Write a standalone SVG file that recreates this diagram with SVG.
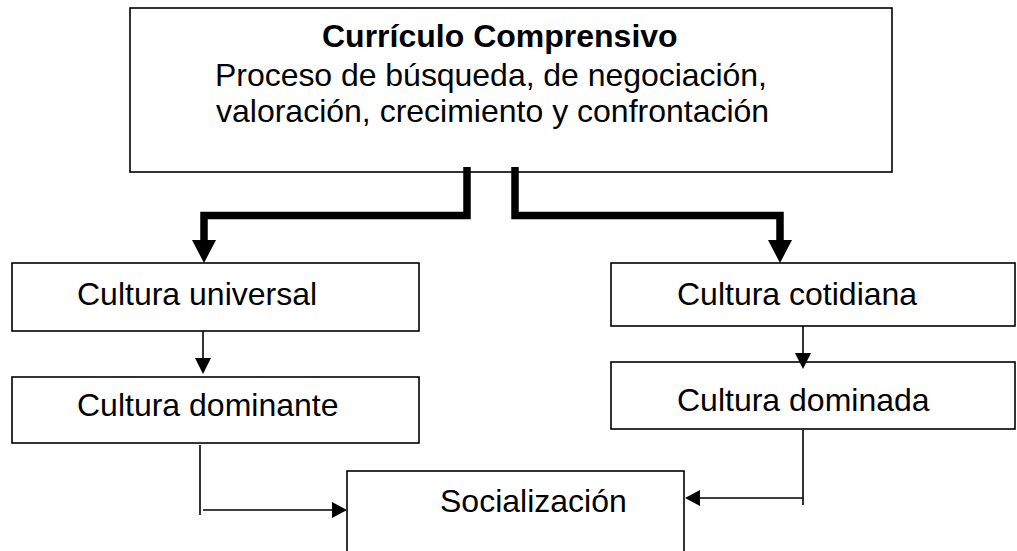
<svg xmlns="http://www.w3.org/2000/svg" width="1017" height="551" viewBox="0 0 1017 551">
<style>
.box{fill:#fff;stroke:#000;stroke-width:1.6}
.t{font-family:"Liberation Sans",Arial,sans-serif;font-size:32px;fill:#000}
.b{font-weight:bold}
.thick{fill:none;stroke:#000;stroke-width:7.5}
.thin{fill:none;stroke:#000;stroke-width:1.6}
</style>
<rect width="1017" height="551" fill="#fff"/>
<g id="curriculo">
<rect class="box" x="130" y="8" width="762" height="164"/>
<text class="t b" x="322" y="47">Currículo Comprensivo</text>
<text class="t" x="215" y="86" textLength="552" lengthAdjust="spacing">Proceso de búsqueda, de negociación,</text>
<text class="t" x="216" y="122">valoración, crecimiento y confrontación</text>
</g>
<g id="universal">
<rect class="box" x="12" y="263" width="407" height="68"/>
<text class="t" x="77" y="305">Cultura universal</text>
</g>
<g id="dominante">
<rect class="box" x="12" y="377" width="407" height="66"/>
<text class="t" x="77" y="416">Cultura dominante</text>
</g>
<g id="cotidiana">
<rect class="box" x="611" y="263" width="404" height="63"/>
<text class="t" x="677" y="305">Cultura cotidiana</text>
</g>
<g id="dominada">
<rect class="box" x="611" y="362" width="404" height="67"/>
<text class="t" x="677" y="411">Cultura dominada</text>
</g>
<g id="socializacion">
<rect class="box" x="347" y="471" width="337" height="100"/>
<text class="t" x="440" y="512">Socialización</text>
</g>
<g id="connectors">
<path class="thick" d="M467,167 V215.5 H204 V242"/>
<polygon points="192,240 216,240 204,263"/>
<path class="thick" d="M515,167 V215.5 H780 V242"/>
<polygon points="768,240 792,240 780,263"/>
<path class="thin" d="M203,331 V360"/>
<polygon points="195,358 211,358 203,374"/>
<path class="thin" d="M803,326 V355"/>
<polygon points="795,353 811,353 803,369"/>
<path class="thin" d="M200,445 V515"/>
<path class="thin" d="M203,510 H334"/>
<polygon points="332,502 332,518 347,510"/>
<path class="thin" d="M803,430 V505"/>
<path class="thin" d="M803,498 H698"/>
<polygon points="700,490 700,506 685,498"/>
</g>
</svg>
